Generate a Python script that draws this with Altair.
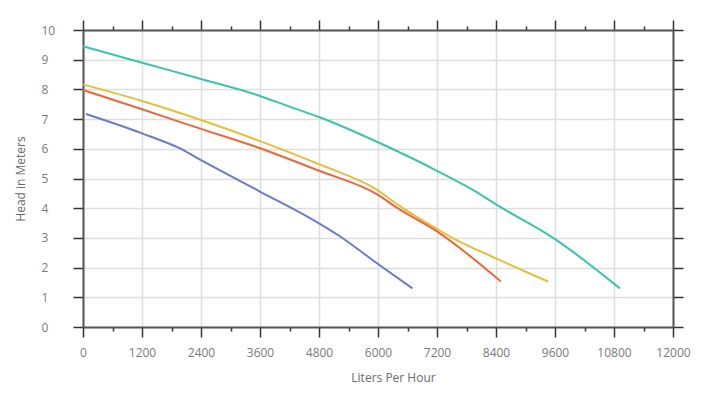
import altair as alt
import pandas as pd

series_names = ["teal", "yellow", "orange", "blue"]

teal_x = [0, 1200, 2400, 3600, 4200, 4800, 6000, 7200, 8000, 8400, 9600, 10920]
teal_y = [9.45, 8.9, 8.35, 7.78, 7.42, 7.07, 6.22, 5.26, 4.55, 4.13, 2.96, 1.30]

yellow_x = [0, 1200, 2400, 3600, 4800, 6000, 6400, 7200, 7550, 8400, 9460]
yellow_y = [8.17, 7.61, 6.97, 6.26, 5.48, 4.6, 4.12, 3.3, 2.97, 2.31, 1.53]

orange_x = [0, 1200, 2400, 3600, 4800, 6000, 6400, 7200, 8500]
orange_y = [7.98, 7.33, 6.67, 6.02, 5.26, 4.45, 4.0, 3.22, 1.53]

blue_x = [60, 1200, 1950, 2400, 3600, 4800, 5200, 6000, 6700]
blue_y = [7.17, 6.52, 6.03, 5.62, 4.56, 3.49, 3.08, 2.12, 1.30]

series_colors = ["#3cc3b0", "#e6be3c", "#e8683a", "#6a7bc8"]

x_ticks = list(range(0, 12001, 600))
y_ticks = [i / 2 for i in range(0, 21)]

rows = []
for name, xs, ys in [("teal", teal_x, teal_y), ("yellow", yellow_x, yellow_y),
                     ("orange", orange_x, orange_y), ("blue", blue_x, blue_y)]:
    for i, (a, b) in enumerate(zip(xs, ys)):
        rows.append({"series": name, "flow": a, "head": b, "order": i})
df = pd.DataFrame(rows)

FONT = "Open Sans"
LABEL_COLOR = "#7a7a7a"
major_x = "datum.value % 1200 === 0"
major_y = "datum.value % 1 === 0"

x_scale = alt.Scale(domain=[0, 12000], nice=False, zero=False)
y_scale = alt.Scale(domain=[0, 10], nice=False, zero=False)


def x_axis(orient, labels):
    return alt.Axis(
        orient=orient,
        values=x_ticks,
        labels=labels,
        labelExpr=f"{major_x} ? datum.label : ''",
        labelFont=FONT, labelFontSize=12, labelColor=LABEL_COLOR, labelPadding=10,
        labelFlush=False, labelOverlap=False,
        format="d",
        title="Liters Per Hour" if labels else None,
        titleFont=FONT, titleFontSize=12, titleColor="#6a6a6a", titleFontWeight="normal",
        titlePadding=14, titleX=310 if labels else alt.Undefined,
        tickSize={"condition": {"test": major_x, "value": 10}, "value": 4},
        tickColor="#333333", tickWidth=1.5,
        domainColor="#555555", domainWidth=2,
        grid=labels,
        gridColor="#dddddd", gridWidth=1.5,
        gridOpacity={"condition": {"test": major_x, "value": 1}, "value": 0},
    )


def y_axis(orient, labels):
    return alt.Axis(
        orient=orient,
        values=y_ticks,
        labels=labels,
        labelExpr=f"{major_y} ? datum.label : ''",
        labelFont=FONT, labelFontSize=12, labelColor=LABEL_COLOR,
        labelAlign="left", labelPadding=32,
        labelFlush=False, labelOverlap=False,
        format="d",
        title="Head in Meters" if labels else None,
        titleFont=FONT, titleFontSize=12, titleColor="#6a6a6a", titleFontWeight="normal",
        titlePadding=14,
        tickSize={"condition": {"test": major_y, "value": 10}, "value": 4},
        tickColor="#333333", tickWidth=1.5,
        domainColor="#555555", domainWidth=2,
        grid=labels,
        gridColor="#dddddd", gridWidth=1.5,
        gridOpacity={"condition": {"test": major_y, "value": 1}, "value": 0},
    )


lines = alt.Chart(df).mark_line(strokeWidth=2, interpolate="monotone").encode(
    x=alt.X("flow:Q", scale=x_scale, axis=x_axis("bottom", True)),
    y=alt.Y("head:Q", scale=y_scale, axis=y_axis("left", True)),
    color=alt.Color("series:N", scale=alt.Scale(domain=series_names, range=series_colors), legend=None),
    order="order:Q",
    detail="series:N",
)

frame = alt.Chart(df).mark_point(opacity=0).encode(
    x=alt.X("flow:Q", scale=x_scale, axis=x_axis("top", False)),
    y=alt.Y("head:Q", scale=y_scale, axis=y_axis("right", False)),
)

chart = alt.layer(frame, lines).resolve_axis(x="independent", y="independent").properties(
    width=590, height=297,
    autosize=alt.AutoSizeParams(type="none"),
    padding={"left": 75, "top": 22, "right": 39, "bottom": 64},
).configure_view(stroke=None)

chart.save("out.html", embed_options={"renderer": "svg", "actions": False})
